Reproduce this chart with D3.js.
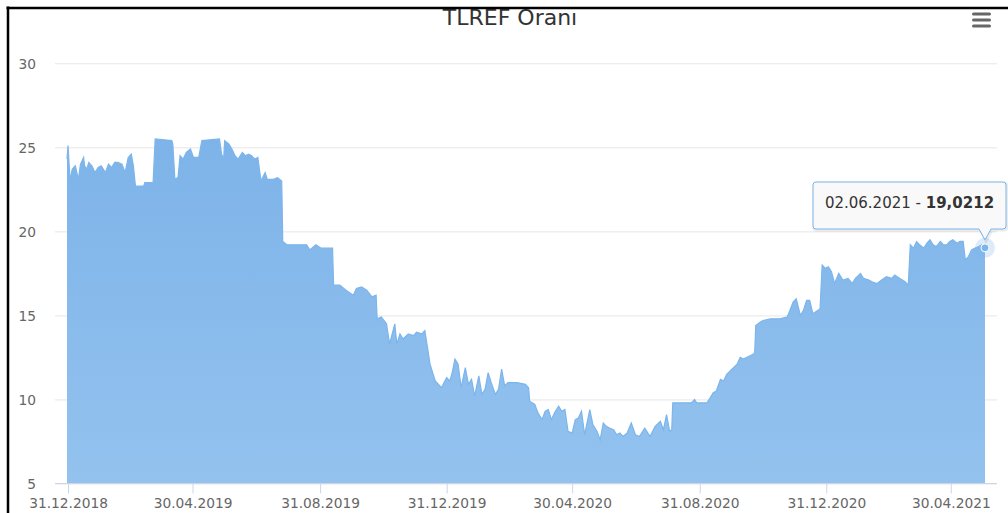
<!DOCTYPE html>
<html><head><meta charset="utf-8">
<script src="https://cdn.jsdelivr.net/npm/d3@7"></script>
<style>html,body{margin:0;padding:0;background:#fff;overflow:hidden}</style>
</head><body>
<svg id="c" width="1008" height="513"></svg>
<script>
// ---- Data ----
const data2019 = [
["30.12.2018",24.3],["31.12.2018",25.1],["02.01.2019",23.0],["04.01.2019",23.7],["07.01.2019",23.9],["10.01.2019",23.1],["12.01.2019",24.0],["15.01.2019",24.4],["16.01.2019",23.9],["18.01.2019",23.7],["20.01.2019",24.1],["23.01.2019",23.9],["26.01.2019",23.5],["29.01.2019",23.8],
["01.02.2019",23.9],["05.02.2019",23.5],["08.02.2019",24.0],["11.02.2019",23.8],["14.02.2019",24.1],["17.02.2019",24.1],["21.02.2019",24.0],["24.02.2019",23.5],["27.02.2019",24.4],
["02.03.2019",24.6],["04.03.2019",23.9],["06.03.2019",22.7],["14.03.2019",22.7],["15.03.2019",22.9],["23.03.2019",22.9],["25.03.2019",25.5],
["10.04.2019",25.4],["11.04.2019",25.2],["13.04.2019",23.1],["16.04.2019",23.2],["18.04.2019",24.5],["21.04.2019",24.3],["24.04.2019",24.7],["28.04.2019",24.9],
["01.05.2019",24.4],["06.05.2019",24.4],["09.05.2019",25.4],["26.05.2019",25.5],["28.05.2019",24.6],["30.05.2019",24.3],["31.05.2019",25.4],
["04.06.2019",25.2],["07.06.2019",24.9],["10.06.2019",24.5],["13.06.2019",24.3],["17.06.2019",24.7],["20.06.2019",24.5],["23.06.2019",24.6],["26.06.2019",24.5],["29.06.2019",24.3],
["02.07.2019",24.4],["05.07.2019",23.0],["09.07.2019",23.5],["11.07.2019",23.1],["17.07.2019",23.1],["21.07.2019",23.2],["25.07.2019",23.0],["26.07.2019",19.4],["30.07.2019",19.2],
["05.08.2019",19.2],["12.08.2019",19.2],["18.08.2019",19.2],["21.08.2019",18.9],["27.08.2019",19.2],
["01.09.2019",19.0],["06.09.2019",19.0],["12.09.2019",19.0],["13.09.2019",16.8],["19.09.2019",16.8],["25.09.2019",16.5],
["02.10.2019",16.2],["05.10.2019",16.6],["10.10.2019",16.7],["15.10.2019",16.5],["20.10.2019",16.1],["24.10.2019",16.2],["25.10.2019",14.8],["29.10.2019",14.9],
["03.11.2019",14.5],["06.11.2019",13.3],["11.11.2019",14.5],["13.11.2019",13.3],["16.11.2019",13.9],["19.11.2019",13.6],["24.11.2019",13.9],["29.11.2019",13.8],
["02.12.2019",14.0],["07.12.2019",13.9],["10.12.2019",14.1],["11.12.2019",13.7],["15.12.2019",12.1],["20.12.2019",11.1],["26.12.2019",10.7],["31.12.2019",11.3]
];
const data2020 = [
["03.01.2020",11.1],["05.01.2020",11.5],["08.01.2020",12.4],["11.01.2020",12.1],["14.01.2020",10.7],["18.01.2020",11.9],["21.01.2020",10.9],["24.01.2020",11.2],["27.01.2020",10.2],["31.01.2020",11.4],
["03.02.2020",10.3],["06.02.2020",10.6],["09.02.2020",11.6],["12.02.2020",11.0],["16.02.2020",10.3],["19.02.2020",10.6],["22.02.2020",11.8],["25.02.2020",10.8],["28.02.2020",11.0],
["08.03.2020",11.0],["16.03.2020",10.9],["19.03.2020",10.7],["20.03.2020",9.9],["25.03.2020",9.7],["28.03.2020",9.2],
["01.04.2020",8.8],["04.04.2020",9.3],["07.04.2020",9.4],["10.04.2020",8.8],["13.04.2020",9.2],["17.04.2020",9.6],["20.04.2020",9.3],["23.04.2020",9.4],["26.04.2020",8.1],["30.04.2020",8.0],
["03.05.2020",8.8],["06.05.2020",8.9],["09.05.2020",9.3],["12.05.2020",7.9],["17.05.2020",9.4],["20.05.2020",8.5],["24.05.2020",8.1],["27.05.2020",7.6],["30.05.2020",8.6],
["02.06.2020",8.4],["05.06.2020",8.3],["09.06.2020",8.2],["12.06.2020",7.9],["15.06.2020",8.0],["18.06.2020",7.8],["22.06.2020",8.0],["26.06.2020",8.6],["30.06.2020",7.9],
["04.07.2020",7.8],["09.07.2020",8.3],["14.07.2020",7.8],["19.07.2020",8.4],["24.07.2020",8.7],["27.07.2020",8.2],["30.07.2020",9.1],
["02.08.2020",8.1],["04.08.2020",8.2],["05.08.2020",9.8],["15.08.2020",9.8],["23.08.2020",9.8],["26.08.2020",10.0],["28.08.2020",9.8],
["07.09.2020",9.8],["10.09.2020",10.1],["13.09.2020",10.4],["16.09.2020",10.5],["20.09.2020",11.2],["23.09.2020",11.1],["26.09.2020",11.5],
["01.10.2020",11.8],["06.10.2020",12.1],["09.10.2020",12.5],["12.10.2020",12.4],["15.10.2020",12.5],["22.10.2020",12.7],["23.10.2020",12.8],["24.10.2020",14.4],["28.10.2020",14.6],["31.10.2020",14.7],
["07.11.2020",14.8],["16.11.2020",14.8],["23.11.2020",14.9],["24.11.2020",15.0],["29.11.2020",15.8],
["02.12.2020",16.0],["06.12.2020",15.0],["09.12.2020",15.3],["12.12.2020",15.9],["15.12.2020",15.9],["18.12.2020",15.1],["23.12.2020",15.3],["25.12.2020",15.4],["27.12.2020",18.0],["30.12.2020",17.8]
];
const data2021 = [
["02.01.2021",17.9],["05.01.2021",17.6],["08.01.2021",16.9],["12.01.2021",17.5],["16.01.2021",17.1],["21.01.2021",17.2],["25.01.2021",16.9],["28.01.2021",17.2],
["02.02.2021",17.5],["05.02.2021",17.2],["10.02.2021",17.1],["13.02.2021",17.0],["18.02.2021",16.9],["22.02.2021",17.1],["27.02.2021",17.3],
["04.03.2021",17.2],["07.03.2021",17.4],["12.03.2021",17.2],["17.03.2021",17.0],["20.03.2021",16.8],["22.03.2021",19.2],["25.03.2021",19.0],["28.03.2021",19.4],["31.03.2021",19.2],
["04.04.2021",19.0],["07.04.2021",19.3],["10.04.2021",19.5],["13.04.2021",19.2],["16.04.2021",19.1],["20.04.2021",19.4],["23.04.2021",19.2],["26.04.2021",19.2],["29.04.2021",19.4],
["02.05.2021",19.5],["06.05.2021",19.3],["09.05.2021",19.4],["12.05.2021",19.4],["14.05.2021",18.3],["17.05.2021",18.5],["20.05.2021",18.9],["23.05.2021",19.0],["27.05.2021",19.1],["30.05.2021",19.2],
["02.06.2021",19.0212]
];
const yTicks = [5, 10, 15, 20, 25, 30];
const xTickLabels = ["31.12.2018","30.04.2019","31.08.2019","31.12.2019","30.04.2020","31.08.2020","31.12.2020","30.04.2021"];
const chartTitle = "TLREF Oranı";
const hoverDate = "02.06.2021";
const hoverValue = 19.0212;

// ---- Chart ----
const parse = d3.timeParse("%d.%m.%Y");
const fmt = d3.timeFormat("%d.%m.%Y");
const series = [...data2019, ...data2020, ...data2021].map(([d, v]) => ({date: parse(d), value: v}));

const plot = {left: 55, right: 997, top: 63.3, bottom: 483.5};
const x = d3.scaleTime().domain([series[0].date, series[series.length - 1].date]).range([67, 985]);
const y = d3.scaleLinear().domain([5, 30]).range([plot.bottom, plot.top]);

const svg = d3.select("#c");
const FONT = "'DejaVu Sans', Verdana, sans-serif";

const defs = svg.append("defs");
const grad = defs.append("linearGradient").attr("id", "ag")
  .attr("gradientUnits", "userSpaceOnUse").attr("x1", 0).attr("x2", 0)
  .attr("y1", plot.top).attr("y2", plot.bottom);
grad.append("stop").attr("offset", "0%").attr("stop-color", "#79b0e8");
grad.append("stop").attr("offset", "100%").attr("stop-color", "#93c2ee");

// y grid + labels
const yAxis = svg.append("g").attr("transform", `translate(${plot.left},0)`)
  .call(d3.axisLeft(y).tickValues(yTicks).tickSize(-(plot.right - plot.left)).tickPadding(19));
yAxis.select(".domain").remove();
yAxis.selectAll(".tick line").attr("stroke", "#e6e6e6").attr("stroke-width", 1);
yAxis.selectAll(".tick text").attr("fill", "#666").style("font-family", FONT).style("font-size", "13.75px").attr("dy", "0.38em");

// area
const area = d3.area().x(d => x(d.date)).y0(y(5)).y1(d => y(d.value)).curve(d3.curveLinear);
svg.append("path").datum(series).attr("d", area).attr("fill", "url(#ag)");
const line = d3.line().x(d => x(d.date)).y(d => y(d.value));
svg.append("path").datum(series).attr("d", line).attr("fill", "none").attr("stroke", "#7cb5ec").attr("stroke-width", 1.2);

// x axis
svg.append("line").attr("x1", plot.left).attr("x2", plot.right).attr("y1", plot.bottom).attr("y2", plot.bottom)
  .attr("stroke", "#ccd6eb").attr("stroke-width", 1);
const xAxis = svg.append("g").attr("transform", `translate(0,${plot.bottom})`)
  .call(d3.axisBottom(x).tickValues(xTickLabels.map(parse)).tickFormat(fmt).tickSize(10).tickPadding(4.5));
xAxis.select(".domain").remove();
xAxis.selectAll(".tick line").attr("stroke", "#ccd6eb");
xAxis.selectAll(".tick text").attr("fill", "#666").style("font-family", FONT).style("font-size", "13.75px");

// hover marker
const last = series[series.length - 1];
const mx = x(parse(hoverDate)), my = y(hoverValue);
svg.append("circle").attr("cx", mx).attr("cy", my).attr("r", 10).attr("fill", "#7cb5ec").attr("opacity", 0.25);
svg.append("circle").attr("cx", mx).attr("cy", my).attr("r", 4).attr("fill", "#7cb5ec").attr("stroke", "#fff").attr("stroke-width", 1);

// tooltip
const tb = {l: 813, r: 1006, t: 182, b: 229, rad: 3};
const tip = `M ${tb.l+tb.rad} ${tb.t} H ${tb.r-tb.rad} Q ${tb.r} ${tb.t} ${tb.r} ${tb.t+tb.rad} V ${tb.b-tb.rad} Q ${tb.r} ${tb.b} ${tb.r-tb.rad} ${tb.b} H ${mx+6} L ${mx} ${my-8} L ${mx-6} ${tb.b} H ${tb.l+tb.rad} Q ${tb.l} ${tb.b} ${tb.l} ${tb.b-tb.rad} V ${tb.t+tb.rad} Q ${tb.l} ${tb.t} ${tb.l+tb.rad} ${tb.t} Z`;
svg.append("path").attr("d", tip).attr("transform", "translate(1,1)").attr("fill", "none").attr("stroke", "rgba(0,0,0,0.08)").attr("stroke-width", 3);
svg.append("path").attr("d", tip).attr("fill", "rgba(248,248,248,0.92)").attr("stroke", "#7cb5ec").attr("stroke-width", 1);
const tt = svg.append("text").attr("x", (tb.l + tb.r) / 2).attr("y", 208).attr("text-anchor", "middle")
  .style("font-family", FONT).style("font-size", "15px").attr("fill", "#333");
tt.append("tspan").text(hoverDate + " - ");
tt.append("tspan").attr("font-weight", "bold").text(d3.format(".4f")(hoverValue).replace(".", ","));

// title
svg.append("text").attr("x", 510).attr("y", 24.5).attr("text-anchor", "middle")
  .style("font-family", FONT).style("font-size", "22px").attr("fill", "#333").text(chartTitle);

// menu icon
[14, 20, 26].forEach(yy => svg.append("line").attr("x1", 973.5).attr("x2", 989.5).attr("y1", yy).attr("y2", yy)
  .attr("stroke", "#666").attr("stroke-width", 3).attr("stroke-linecap", "round"));

// outer frame (cropped screenshot border)
svg.append("rect").attr("x", 0).attr("y", 0).attr("width", 1008).attr("height", 7).attr("fill", "#fff");
svg.append("rect").attr("x", 0).attr("y", 0).attr("width", 7).attr("height", 513).attr("fill", "#fff");
svg.append("line").attr("x1", 6.5).attr("x2", 1008).attr("y1", 8).attr("y2", 8).attr("stroke", "#000").attr("stroke-width", 2.5);
svg.append("line").attr("x1", 8).attr("x2", 8).attr("y1", 6.5).attr("y2", 513).attr("stroke", "#000").attr("stroke-width", 2.5);
</script>
</body></html>
